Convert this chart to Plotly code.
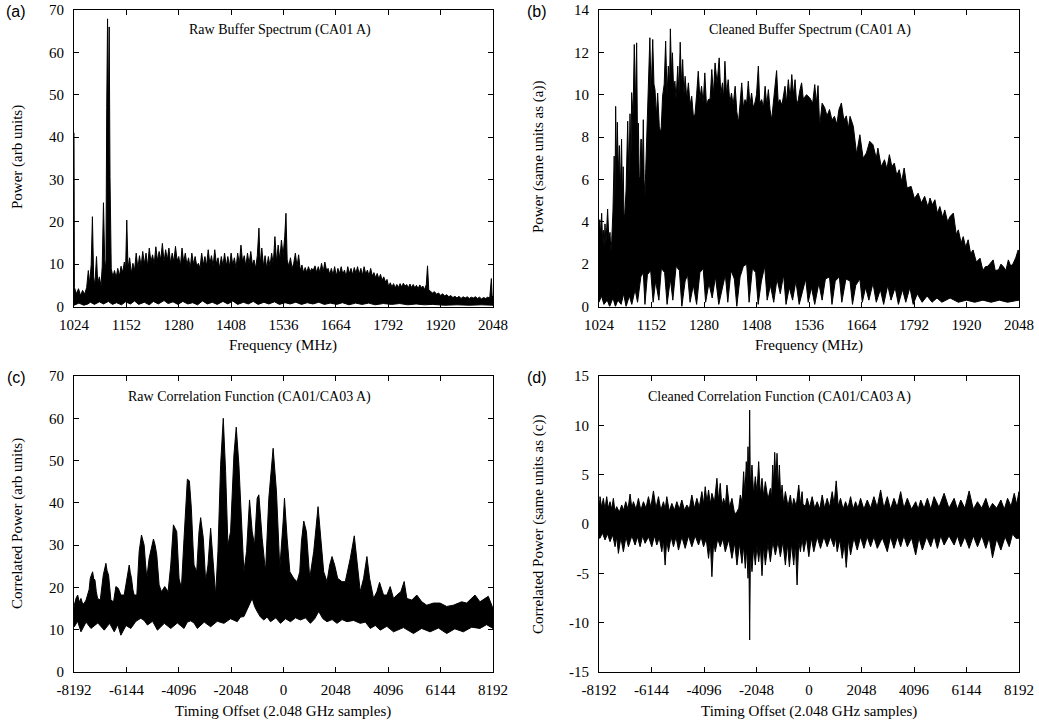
import plotly.graph_objects as go

# ---------------------------------------------------------------------------
# (a) Raw buffer spectrum, CA01 A: upper and lower edges of the trace
# ---------------------------------------------------------------------------
freq_a_top = [1024, 1025, 1030, 1035, 1040, 1045, 1050, 1055, 1059, 1062, 1066, 1069, 1072, 1075,
              1079, 1082, 1086, 1090, 1093, 1096, 1099, 1102, 1104, 1106, 1108, 1110, 1112, 1115,
              1119, 1123, 1127, 1131, 1135, 1139, 1143, 1147, 1150, 1153, 1156, 1160, 1164, 1168,
              1172, 1176, 1180, 1184, 1188, 1192, 1196, 1200, 1204, 1208, 1212, 1216, 1220, 1224,
              1228, 1232, 1236, 1240, 1244, 1248, 1252, 1256, 1260, 1264, 1268, 1272, 1276, 1280,
              1284, 1288, 1292, 1296, 1300, 1304, 1308, 1312, 1316, 1320, 1324, 1328, 1332, 1336,
              1340, 1344, 1348, 1352, 1356, 1360, 1364, 1368, 1372, 1376, 1380, 1384, 1388, 1392,
              1396, 1400, 1404, 1408, 1412, 1416, 1420, 1424, 1428, 1432, 1436, 1440, 1444, 1448,
              1452, 1456, 1460, 1464, 1468, 1472, 1476, 1479, 1483, 1487, 1491, 1495, 1499, 1503,
              1507, 1511, 1515, 1519, 1523, 1527, 1531, 1535, 1539, 1542, 1545, 1549, 1553, 1557,
              1561, 1565, 1569, 1573, 1577, 1581, 1585, 1589, 1593, 1597, 1601, 1605, 1609, 1613,
              1617, 1621, 1625, 1629, 1633, 1637, 1641, 1645, 1649, 1653, 1657, 1661, 1665, 1669,
              1673, 1677, 1681, 1685, 1689, 1693, 1697, 1701, 1705, 1709, 1713, 1717, 1721, 1725,
              1729, 1733, 1737, 1741, 1745, 1749, 1753, 1757, 1761, 1765, 1769, 1773, 1777, 1781,
              1785, 1789, 1793, 1797, 1801, 1805, 1809, 1813, 1817, 1821, 1825, 1829, 1833, 1837,
              1841, 1845, 1849, 1853, 1857, 1861, 1865, 1869, 1873, 1877, 1881, 1885, 1888, 1891,
              1895, 1900, 1905, 1910, 1915, 1920, 1925, 1930, 1935, 1940, 1945, 1950, 1955, 1960,
              1965, 1970, 1975, 1980, 1985, 1990, 1995, 2000, 2005, 2010, 2015, 2020, 2025, 2030,
              2035, 2040, 2044, 2046, 2048]
power_a_top = [41.0, 4.5, 3.0, 4.2, 2.6, 3.8, 2.9, 4.5, 8.5, 5.5, 9.8, 21.2, 7.0, 5.0,
               11.8, 5.5, 7.0, 4.8, 9.5, 24.5, 11.0, 9.0, 47.0, 67.9, 44.0, 66.0, 30.7, 9.0,
               7.0, 8.5, 6.8, 9.0, 7.2, 9.5, 8.0, 10.5, 8.5, 20.4, 9.0, 11.5, 7.8, 10.2,
               8.5, 12.6, 9.0, 12.0, 9.5, 13.0, 10.0, 12.6, 9.5, 13.8, 10.5, 12.2, 10.0, 14.1,
               10.8, 13.0, 11.0, 14.9, 10.5, 13.4, 11.0, 13.8, 10.2, 12.6, 10.5, 14.2, 10.8, 11.8,
               9.5, 13.8, 10.5, 12.6, 9.8, 11.5, 9.0, 12.6, 10.0, 11.8, 9.5, 10.2, 9.0, 12.6,
               9.8, 11.8, 9.5, 13.4, 10.0, 12.0, 9.5, 13.4, 10.0, 11.5, 9.0, 11.8, 9.6, 12.6,
               9.5, 11.8, 9.4, 12.6, 9.8, 11.5, 9.0, 12.6, 10.0, 14.5, 10.5, 12.0, 9.5, 12.6,
               10.0, 13.0, 9.8, 11.0, 9.0, 12.0, 18.5, 10.0, 13.8, 9.5, 12.0, 9.0, 11.8, 9.5,
               12.6, 10.0, 16.5, 10.5, 14.5, 11.0, 15.7, 12.0, 16.5, 22.0, 11.0, 9.5, 11.5, 9.0,
               10.2, 12.6, 9.4, 12.2, 8.5, 9.8, 8.0, 9.2, 8.0, 9.4, 8.2, 9.0, 8.6, 9.6,
               8.0, 9.4, 8.0, 10.2, 8.2, 10.5, 8.6, 9.0, 7.6, 9.0, 7.4, 9.4, 7.2, 9.0,
               7.8, 9.4, 7.6, 8.6, 7.0, 9.4, 7.8, 9.0, 7.5, 9.2, 7.8, 9.4, 7.6, 9.0,
               7.4, 9.4, 7.6, 8.6, 7.2, 9.0, 7.2, 8.0, 6.8, 7.8, 6.5, 7.6, 6.2, 7.0,
               5.8, 6.4, 4.7, 5.6, 4.6, 5.4, 4.4, 5.2, 4.5, 5.4, 4.6, 5.5, 4.8, 5.2,
               4.4, 5.3, 4.5, 5.2, 4.4, 5.0, 4.2, 5.1, 4.5, 4.8, 4.0, 5.2, 9.6, 4.0,
               3.6, 3.2, 3.5, 2.9, 3.2, 2.6, 3.0, 2.5, 2.8, 2.3, 2.6, 2.1, 2.4, 2.0,
               2.4, 1.9, 2.3, 2.0, 2.3, 1.9, 2.2, 2.0, 2.3, 1.9, 2.2, 1.8, 2.1, 1.9,
               2.2, 2.0, 6.6, 2.2, 2.5]
freq_a_floor = [1024, 1036, 1048, 1058, 1064, 1074, 1086, 1096, 1108, 1118,
                1128, 1140, 1150, 1162, 1172, 1182, 1196, 1208, 1218, 1230,
                1244, 1254, 1266, 1278, 1290, 1302, 1314, 1326, 1338, 1350,
                1362, 1374, 1388, 1400, 1412, 1424, 1438, 1450, 1462, 1474,
                1488, 1500, 1514, 1526, 1540, 1552, 1566, 1580, 1594, 1608,
                1622, 1636, 1650, 1666, 1680, 1696, 1712, 1728, 1744, 1760,
                1780, 1800, 1820, 1840, 1860, 1880, 1900, 1930, 1960, 1990,
                2020, 2048]
power_a_floor = [0.3, 0.8, 0.3, 0.6, 1.0, 0.5, 1.1, 0.6, 1.2, 0.5,
                 0.9, 0.4, 1.1, 0.6, 1.3, 0.5, 1.0, 0.4, 1.2, 0.6,
                 1.4, 0.7, 1.1, 0.5, 1.2, 0.6, 0.9, 0.4, 1.3, 0.6,
                 1.0, 0.5, 1.2, 0.6, 1.3, 0.5, 1.0, 0.6, 1.2, 0.5,
                 1.0, 0.6, 1.1, 0.5, 0.9, 0.6, 1.0, 0.5, 0.9, 0.6,
                 1.0, 0.5, 0.8, 0.5, 0.9, 0.4, 0.8, 0.5, 0.8, 0.4,
                 0.7, 0.5, 0.7, 0.4, 0.6, 0.4, 0.5, 0.3, 0.4, 0.3,
                 0.4, 0.3]

# ---------------------------------------------------------------------------
# (b) Cleaned buffer spectrum, CA01 A
# ---------------------------------------------------------------------------
freq_b_top = [1024, 1026, 1028, 1030.5, 1032.5, 1034.6, 1036.5, 1038.6, 1041, 1045, 1048, 1050.8,
              1053, 1055, 1058, 1061, 1063, 1064.6, 1066.5, 1068.7, 1071, 1073.6, 1076, 1079,
              1081, 1083, 1085, 1087, 1090, 1094, 1097, 1099.6, 1102, 1103.6, 1107, 1110, 1113,
              1115.8, 1118, 1120, 1122, 1124, 1126, 1128, 1130, 1132, 1134, 1136, 1138, 1140,
              1142, 1144, 1146, 1148, 1151, 1155, 1158, 1160.5, 1164, 1167, 1171, 1175, 1177,
              1179, 1183, 1186.5, 1190, 1193, 1196, 1198, 1201, 1203, 1206, 1209, 1212, 1216,
              1219, 1222, 1225, 1228, 1231, 1234, 1238, 1242, 1246, 1250, 1254, 1258, 1262,
              1266, 1270, 1274, 1278, 1282, 1286, 1290.5, 1295, 1299, 1303, 1307, 1312, 1317,
              1321, 1325, 1328, 1331, 1335, 1339, 1343, 1347, 1351, 1356, 1360, 1364, 1368,
              1372, 1376, 1380, 1384, 1388, 1392, 1396, 1400, 1404, 1408, 1412.5, 1416, 1420.6,
              1425, 1429, 1433, 1437, 1441, 1445, 1450, 1457, 1461, 1465, 1470, 1477.5, 1481,
              1485.6, 1490, 1494, 1498, 1502, 1506, 1510, 1514, 1518, 1522, 1530, 1538, 1545,
              1550, 1554, 1558, 1562, 1568, 1574, 1580, 1586, 1592, 1598, 1604, 1609, 1615,
              1621, 1627, 1632, 1636, 1644, 1652, 1660, 1668, 1676, 1684, 1692, 1700, 1704,
              1712, 1720, 1726, 1732, 1738, 1744, 1750, 1756, 1762, 1768, 1775, 1785, 1793,
              1802, 1810, 1818, 1826, 1831, 1837, 1843, 1849, 1855, 1862, 1867, 1874, 1880,
              1888, 1895, 1900, 1907, 1912, 1918, 1924, 1930, 1936, 1944, 1953, 1960, 1966,
              1972, 1978, 1985, 1990, 1998, 2004, 2010, 2016, 2022, 2028, 2034, 2040, 2046, 2048]
power_b_top = [3.8, 4.1, 3.4, 4.4, 3.2, 3.6, 2.8, 3.9, 3.0, 4.6, 3.2, 3.5,
               2.6, 3.1, 4.5, 7.1, 5.0, 9.45, 6.5, 8.7, 6.2, 7.6, 5.5, 7.9,
               5.0, 6.6, 4.2, 4.4, 5.5, 8.75, 6.0, 9.1, 7.0, 10.1, 9.0, 12.37, 9.5,
               12.45, 7.5, 8.66, 6.0, 6.14, 7.9, 7.88, 6.5, 8.82, 6.0, 5.2, 6.5, 7.72,
               9.0, 10.08, 10.5, 12.69, 10.0, 12.61, 10.5, 10.24, 9.0, 10.08, 8.5, 8.19, 9.0,
               9.93, 10.5, 12.53, 10.0, 11.35, 10.5, 13.11, 10.8, 11.98, 10.2, 10.64, 9.8, 11.35,
               10.0, 12.48, 10.5, 11.66, 10.0, 10.87, 9.8, 10.56, 9.5, 9.93, 9.0, 9.06, 10.0,
               11.11, 9.8, 10.4, 9.6, 11.03, 9.5, 9.77, 9.8, 11.19, 10.0, 11.5, 10.5, 11.74,
               10.0, 10.56, 9.8, 11.58, 10.0, 10.71, 9.6, 10.08, 9.5, 10.4, 9.2, 8.66, 9.6,
               10.56, 9.4, 9.77, 9.6, 10.64, 9.5, 10.08, 9.4, 9.61, 10.0, 11.35, 9.6, 9.77,
               9.4, 10.4, 9.5, 10.24, 9.3, 8.82, 9.8, 11.14, 9.6, 9.77, 9.5, 10.4, 9.6,
               10.71, 9.8, 10.95, 10.0, 10.71, 9.5, 9.77, 10.24, 10.56, 9.8, 10.0, 9.85, 9.6,
               10.48, 9.6, 10.43, 8.5, 9.6, 9.4, 9.0, 9.3, 8.8, 8.98, 8.6, 9.3, 9.61,
               8.8, 9.0, 8.4, 8.98, 8.51, 7.2, 8.11, 7.0, 7.25, 7.8, 7.64, 7.0, 7.48,
               6.6, 6.93, 6.5, 7.17, 6.6, 6.77, 6.2, 6.46, 5.9, 6.54, 5.6, 5.67, 5.1,
               5.35, 4.9, 5.2, 4.7, 5.12, 4.8, 5.04, 4.4, 4.72, 4.2, 4.56, 4.0, 4.25,
               4.41, 3.4, 3.62, 3.0, 3.3, 2.8, 3.15, 2.5, 2.67, 2.1, 2.28, 1.7, 1.88,
               1.9, 2.04, 2.2, 1.7, 1.73, 2.0, 1.88, 1.7, 2.2, 1.9, 2.04, 2.3, 2.67, 2.5]
freq_b_floor = [1024, 1030, 1036, 1044, 1050, 1058, 1064, 1070, 1078, 1084,
                1090, 1098, 1104, 1112, 1118, 1126, 1132, 1136, 1142, 1150,
                1156, 1162, 1170, 1176, 1184, 1190, 1198, 1204, 1212, 1220,
                1226, 1234, 1240, 1246, 1254, 1262, 1270, 1278, 1284, 1292,
                1300, 1308, 1316, 1324, 1332, 1338, 1346, 1354, 1360, 1368,
                1376, 1384, 1390, 1398, 1406, 1412, 1420, 1428, 1434, 1442,
                1450, 1458, 1466, 1474, 1480, 1488, 1496, 1504, 1512, 1520,
                1528, 1534, 1542, 1550, 1560, 1568, 1576, 1586, 1592, 1600,
                1610, 1616, 1626, 1636, 1642, 1650, 1660, 1666, 1674, 1682,
                1692, 1700, 1710, 1718, 1728, 1736, 1746, 1754, 1764, 1772,
                1782, 1790, 1800, 1812, 1824, 1836, 1848, 1860, 1880, 1900,
                1920, 1940, 1960, 1980, 2000, 2020, 2048]
power_b_floor = [0.2, 0.5, 0.1, 0.3, 0.0, 0.4, 0.0, 0.3, 0.1, 0.6,
                 0.0, 0.5, 0.1, 0.8, 0.2, 1.4, 1.6, 0.1, 1.5, 1.7,
                 0.2, 1.2, 0.3, 1.8, 1.6, 0.1, 1.3, 0.3, 1.9, 1.7,
                 0.0, 1.2, 1.5, 0.2, 1.0, 0.1, 1.6, 1.8, 0.2, 1.1,
                 0.4, 1.4, 0.1, 0.8, 1.5, 0.2, 1.7, 1.3, 0.0, 1.4,
                 1.9, 2.0, 0.2, 1.8, 1.6, 0.1, 1.2, 1.9, 0.3, 1.0,
                 0.2, 1.3, 0.6, 1.5, 0.1, 0.9, 0.3, 1.2, 0.1, 0.7,
                 1.3, 0.2, 0.9, 0.1, 1.1, 0.3, 1.3, 1.4, 0.1, 1.2,
                 1.4, 0.2, 1.3, 1.2, 0.1, 1.0, 1.3, 0.2, 0.9, 0.3,
                 1.1, 0.2, 0.8, 0.1, 1.0, 0.3, 0.9, 0.1, 0.8, 0.2,
                 0.9, 0.1, 0.6, 0.2, 0.5, 0.2, 0.4, 0.2, 0.4, 0.2,
                 0.3, 0.2, 0.3, 0.2, 0.3, 0.2, 0.3]

# ---------------------------------------------------------------------------
# (c) Raw correlation function, CA01/CA03 A
# ---------------------------------------------------------------------------
lag_c_top = [-8192, -8179, -8110, -8049, -7980, -7919, -7850, -7789, -7720, -7659, -7600, -7555,
             -7464, -7420, -7373, -7320, -7269, -7165, -7100, -7048, -6944, -6900, -6840, -6790,
             -6749, -6645, -6554, -6463, -6400, -6359, -6229, -6125, -6034, -5990, -5943, -5890,
             -5839, -5735, -5644, -5553, -5449, -5400, -5345, -5254, -5085, -5020, -4955, -4864,
             -4773, -4643, -4513, -4409, -4305, -4240, -4175, -4084, -3993, -3889, -3800, -3759,
             -3681, -3603, -3540, -3499, -3395, -3304, -3239, -3135, -3044, -2953, -2849, -2745,
             -2654, -2563, -2459, -2355, -2264, -2173, -2069, -1939, -1848, -1744, -1653, -1549,
             -1445, -1328, -1224, -1133, -1029, -964, -834, -704, -574, -405, -275, -145,
             -15, 38, 142, 247, 402, 532, 636, 701, 792, 896, 1026, 1182, 1351, 1468, 1572,
             1702, 1806, 1897, 2001, 2118, 2287, 2417, 2612, 2768, 2898, 3002, 3132, 3262,
             3366, 3522, 3652, 3756, 3912, 4042, 4172, 4302, 4432, 4588, 4718, 4822, 5017,
             5212, 5407, 5602, 5862, 6122, 6382, 6642, 6967, 7162, 7487, 7682, 8007, 8192]
corr_c_top = [15.0, 15.8, 17.5, 18.2, 16.5, 17.4, 16.0, 16.3, 17.0, 18.2, 19.5, 22.2,
              23.7, 22.0, 21.8, 19.0, 17.4, 17.0, 20.0, 22.9, 25.7, 24.0, 22.9, 19.5,
              17.0, 16.6, 20.2, 19.8, 18.6, 18.2, 18.2, 22.15, 25.3, 23.5, 22.15, 19.5,
              18.2, 18.2, 28.5, 32.4, 30.0, 26.0, 22.15, 26.9, 31.45, 30.0, 27.7, 20.6,
              19.0, 20.2, 19.0, 25.3, 34.8, 34.0, 33.2, 22.15, 19.8, 31.6, 42.0, 45.6,
              45.2, 38.7, 30.0, 25.3, 23.7, 33.2, 36.5, 31.6, 21.4, 25.3, 34.0, 25.3,
              18.2, 28.5, 49.0, 60.0, 47.4, 30.0, 33.2, 51.3, 57.9, 49.0, 36.3, 23.7,
              28.5, 40.7, 33.2, 30.0, 41.1, 41.9, 31.6, 23.7, 41.1, 52.9, 42.6, 24.5,
              35.5, 41.1, 31.6, 23.7, 22.15, 21.36, 23.7, 30.8, 35.7, 33.2, 22.15, 28.5, 39.1, 31.6, 23.7,
              21.36, 25.3, 27.3, 25.3, 22.15, 21.36, 21.36, 26.9, 32.2, 25.3, 19.0, 22.15, 27.3,
              22.15, 17.4, 19.0, 21.2, 18.2, 18.2, 20.2, 17.4, 18.2, 19.0, 21.4, 17.4, 17.0,
              18.2, 16.6, 15.8, 16.3, 16.3, 15.5, 15.8, 16.6, 16.3, 18.2, 16.6, 17.9, 15.0]
lag_c_floor = [-8192, -8179, -8050, -7919, -7720, -7529, -7260, -7009, -6800, -6619,
               -6480, -6359, -6160, -5969, -5770, -5579, -5450, -5319, -5120, -4929,
               -4660, -4409, -4150, -3889, -3760, -3629, -3500, -3369, -3100, -2849,
               -2590, -2329, -2070, -1809, -1680, -1549, -1390, -1224, -1130, -1029,
               -900, -769, -640, -509, -300, -119, 80, 272, 470, 662,
               860, 1052, 1220, 1377, 1540, 1702, 1900, 2092, 2290, 2482,
               2740, 3002, 3200, 3392, 3590, 3782, 4040, 4302, 4690, 5082,
               5400, 5732, 6060, 6382, 6700, 7032, 7360, 7682, 7940, 8192]
corr_c_floor = [11.0, 10.7, 12.0, 9.5, 11.8, 10.3, 11.6, 9.9, 11.5, 9.5,
                11.2, 8.7, 11.0, 10.3, 12.0, 12.7, 12.2, 11.1, 12.0, 9.9,
                11.5, 10.3, 11.6, 10.3, 11.8, 12.1, 11.6, 10.3, 11.8, 10.7,
                12.0, 11.5, 12.6, 11.9, 13.0, 13.1, 15.0, 17.4, 15.5, 14.3,
                13.0, 12.3, 13.0, 11.9, 12.8, 11.5, 12.6, 11.9, 12.8, 12.3,
                12.8, 11.5, 12.6, 14.3, 12.6, 11.9, 12.4, 11.5, 12.4, 11.9,
                12.2, 11.5, 11.8, 10.3, 11.0, 9.9, 10.8, 9.5, 10.5, 9.1,
                10.3, 9.5, 10.4, 9.1, 10.2, 9.5, 10.6, 10.3, 11.2, 10.3]

# ---------------------------------------------------------------------------
# (d) Cleaned correlation function, CA01/CA03 A
# ---------------------------------------------------------------------------
lag_d_top = [-8192, -8170, -8153, -8090, -8022, -7960, -7892, -7830, -7762, -7700,
             -7631, -7570, -7501, -7400, -7306, -7230, -7149, -7060, -6980, -6910,
             -6850, -6750, -6654, -6560, -6459, -6360, -6263, -6170, -6068, -5970,
             -5872, -5780, -5677, -5610, -5547, -5450, -5351, -5250, -5156, -5060,
             -4960, -4860, -4765, -4670, -4570, -4470, -4374, -4280, -4179, -4110,
             -4048, -3980, -3918, -3850, -3788, -3690, -3592, -3530, -3462, -3400,
             -3332, -3260, -3201, -3100, -3006, -2900, -2810, -2740, -2680, -2610,
             -2550, -2500, -2446, -2410, -2380, -2340, -2315, -2290, -2224, -2160,
             -2094, -2030, -1963, -1900, -1833, -1770, -1703, -1600, -1507, -1460,
             -1416, -1380, -1338, -1290, -1247, -1200, -1156, -1100, -1052, -990,
             -921, -820, -726, -660, -596, -500, -400, -335, -270, -235,
             -140, -72, 25, 123, 220, 319, 420, 514, 610, 709,
             800, 905, 980, 1061, 1140, 1231, 1330, 1426, 1520, 1622,
             1720, 1817, 1910, 2012, 2140, 2273, 2400, 2533, 2660, 2794,
             2920, 3055, 3180, 3315, 3440, 3576, 3700, 3836, 4000, 4162,
             4260, 4358, 4490, 4619, 4750, 4879, 5070, 5270, 5460, 5661,
             5790, 5921, 6080, 6247, 6410, 6573, 6740, 6899, 7030, 7159,
             7320, 7485, 7620, 7746, 7880, 8007, 8100, 8192]
corr_d_top = [2.4, 1.6, 2.77, 1.7, 2.6, 1.5, 2.77, 1.6, 2.26, 1.5,
              2.6, 1.3, 1.76, 1.2, 1.93, 1.4, 2.26, 1.5, 3.04, 1.6,
              2.26, 1.5, 2.6, 1.4, 2.26, 1.6, 2.77, 1.7, 3.35, 1.6,
              2.77, 1.4, 2.26, 1.5, 2.77, 1.3, 2.09, 1.4, 2.26, 1.5,
              2.43, 1.4, 1.93, 1.5, 2.94, 1.6, 2.6, 1.7, 3.28, 2.0,
              3.78, 2.2, 3.45, 2.0, 3.11, 2.2, 4.63, 2.4, 4.12, 1.8,
              2.6, 1.9, 3.95, 1.7, 2.6, 1.0, 1.25, 1.6, 2.94, 2.2,
              5.3, 3.0, 6.32, 4.0, 7.83, 4.5, 11.55, 4.0, 5.98, 3.0,
              4.8, 3.2, 6.32, 3.0, 4.63, 2.8, 4.29, 2.5, 3.61, 2.6,
              5.98, 4.0, 7.26, 4.5, 7.16, 3.5, 5.98, 2.5, 3.95, 2.0,
              3.28, 1.8, 2.94, 1.6, 2.6, 1.8, 3.95, 2.0, 3.28, 2.0,
              1.8, 2.6, 1.7, 2.77, 1.6, 2.26, 1.5, 2.94, 1.6, 2.6,
              1.7, 3.28, 2.0, 4.37, 1.8, 2.6, 1.5, 2.26, 1.6, 2.77,
              1.5, 2.26, 1.6, 2.6, 1.5, 2.43, 1.6, 2.77, 1.7, 3.45,
              1.6, 2.77, 1.5, 2.6, 1.7, 3.28, 1.6, 2.6, 1.5, 2.26,
              1.5, 2.43, 1.6, 2.6, 1.5, 2.77, 1.7, 3.11, 1.6, 2.6,
              1.5, 2.43, 1.6, 3.35, 1.5, 2.26, 1.6, 2.6, 1.5, 2.09,
              1.6, 2.43, 1.5, 2.6, 1.8, 3.11, 2.0, 3.28]
lag_d_floor = [-8192, -8153, -8060, -7957, -7860, -7762, -7660, -7566, -7500, -7436,
               -7340, -7241, -7140, -7045, -6910, -6785, -6690, -6589, -6490, -6394,
               -6260, -6133, -6030, -5937, -5840, -5742, -5680, -5612, -5550, -5482,
               -5380, -5286, -5190, -5091, -4960, -4830, -4700, -4570, -4440, -4309,
               -4210, -4113, -4010, -3918, -3850, -3788, -3720, -3657, -3560, -3462,
               -3360, -3266, -3130, -3006, -2900, -2810, -2710, -2615, -2550, -2485,
               -2430, -2380, -2345, -2315, -2285, -2224, -2160, -2094, -2030, -1963,
               -1900, -1833, -1770, -1703, -1600, -1507, -1410, -1312, -1210, -1117,
               -1020, -921, -840, -765, -680, -596, -530, -465, -400, -335,
               -270, -203, -100, -7, 90, 188, 320, 449, 580, 709,
               840, 970, 1040, 1100, 1200, 1296, 1380, 1452, 1540, 1622,
               1750, 1882, 2010, 2143, 2270, 2403, 2530, 2664, 2860, 3055,
               3180, 3315, 3450, 3576, 3700, 3836, 4000, 4162, 4290, 4423,
               4590, 4749, 4880, 5009, 5140, 5270, 5460, 5661, 5790, 5921,
               6080, 6247, 6410, 6573, 6740, 6899, 7030, 7159, 7320, 7485,
               7650, 7811, 7940, 8072, 8192]
corr_d_floor = [-1.4, -1.45, -0.9, -1.62, -1.0, -1.79, -1.1, -2.3, -1.3, -2.98,
                -1.4, -2.81, -1.3, -2.3, -1.2, -2.13, -1.3, -2.3, -1.2, -1.96,
                -1.3, -2.3, -1.2, -2.13, -1.4, -2.81, -1.6, -4.16, -1.6, -2.81,
                -1.3, -2.3, -1.3, -2.64, -1.3, -2.47, -1.2, -2.3, -1.2, -2.13,
                -1.3, -2.3, -1.5, -3.48, -1.8, -5.34, -1.8, -2.81, -1.5, -2.3,
                -1.5, -2.81, -1.6, -3.48, -1.9, -4.16, -2.0, -3.99, -2.2, -4.49,
                -2.4, -5.5, -3.0, -11.76, -3.0, -4.83, -2.4, -4.16, -2.2, -3.82,
                -2.2, -5.24, -2.2, -4.16, -2.0, -3.82, -1.8, -3.14, -1.8, -3.31,
                -1.8, -4.16, -2.0, -4.33, -2.0, -4.16, -2.0, -6.18, -1.8, -2.81,
                -1.5, -2.8, -1.4, -3.31, -1.4, -2.81, -1.3, -2.47, -1.3, -2.3,
                -1.3, -2.3, -1.4, -2.81, -1.6, -3.48, -2.0, -4.4, -1.6, -3.14,
                -1.4, -2.64, -1.3, -2.47, -1.3, -2.3, -1.3, -2.47, -1.4, -2.81,
                -1.3, -2.47, -1.3, -2.3, -1.2, -2.3, -1.4, -3.14, -1.4, -2.64,
                -1.3, -2.3, -1.2, -2.47, -1.2, -2.13, -1.2, -2.13, -1.2, -2.3,
                -1.3, -2.47, -1.2, -2.3, -1.2, -2.47, -1.4, -3.42, -1.5, -2.64,
                -1.3, -2.3, -1.0, -1.45, -1.45]

# Axis ticks
freq_ticks = [1024, 1152, 1280, 1408, 1536, 1664, 1792, 1920, 2048]
lag_ticks = [-8192, -6144, -4096, -2048, 0, 2048, 4096, 6144, 8192]
power_ticks = [0, 10, 20, 30, 40, 50, 60, 70]
clean_power_ticks = [0, 2, 4, 6, 8, 10, 12, 14]
clean_corr_ticks = [-15, -10, -5, 0, 5, 10, 15]

W, H = 1039, 726
SERIF = "Liberation Serif, Times New Roman, serif"
SANS = "Liberation Sans, Arial, sans-serif"


def band(x_top, y_top, x_floor, y_floor, xa, ya):
    """Closed black outline between upper and lower edge of a dense trace."""
    return go.Scatter(
        x=list(x_top) + list(x_floor)[::-1],
        y=list(y_top) + list(y_floor)[::-1],
        mode="lines", fill="toself", fillcolor="black",
        line=dict(color="black", width=1),
        xaxis=xa, yaxis=ya, hoverinfo="skip", showlegend=False,
    )


fig = go.Figure()
fig.add_trace(band(freq_a_top, power_a_top, freq_a_floor, power_a_floor, "x", "y"))
fig.add_trace(band(freq_b_top, power_b_top, freq_b_floor, power_b_floor, "x2", "y2"))
fig.add_trace(band(lag_c_top, corr_c_top, lag_c_floor, corr_c_floor, "x3", "y3"))
fig.add_trace(band(lag_d_top, corr_d_top, lag_d_floor, corr_d_floor, "x4", "y4"))

axis_style = dict(
    showline=True, linecolor="black", linewidth=1, mirror="ticks",
    ticks="inside", ticklen=5, tickwidth=1, tickcolor="black",
    showgrid=False, zeroline=False, automargin=False,
    tickfont=dict(family=SERIF, size=15, color="black"),
)

left_dom = [74 / W, 493 / W]
right_dom = [599 / W, 1019 / W]
top_dom = [1 - 306.5 / H, 1 - 10 / H]
bot_dom = [1 - 672 / H, 1 - 376 / H]


def ticks(vals):
    return dict(tickmode="array", tickvals=vals, ticktext=[str(v) for v in vals])


xstyle = dict(axis_style, ticklabelstandoff=4)
ystyle = dict(axis_style, ticklabelstandoff=6)

fig.update_layout(
    width=W, height=H,
    margin=dict(l=0, r=0, t=0, b=0),
    paper_bgcolor="white", plot_bgcolor="white",
    showlegend=False,
    xaxis=dict(xstyle, domain=left_dom, range=[1024, 2048], anchor="y", **ticks(freq_ticks)),
    yaxis=dict(ystyle, domain=top_dom, range=[0, 70], anchor="x", **ticks(power_ticks)),
    xaxis2=dict(xstyle, domain=right_dom, range=[1024, 2048], anchor="y2", **ticks(freq_ticks)),
    yaxis2=dict(ystyle, domain=top_dom, range=[0, 14], anchor="x2", **ticks(clean_power_ticks)),
    xaxis3=dict(xstyle, domain=left_dom, range=[-8192, 8192], anchor="y3", **ticks(lag_ticks)),
    yaxis3=dict(ystyle, domain=bot_dom, range=[0, 70], anchor="x3", **ticks(power_ticks)),
    xaxis4=dict(xstyle, domain=right_dom, range=[-8192, 8192], anchor="y4", **ticks(lag_ticks)),
    yaxis4=dict(ystyle, domain=bot_dom, range=[-15, 15], anchor="x4", **ticks(clean_corr_ticks)),
)


def label(text, x, y, size=15, family=SERIF, angle=0, xanchor="center"):
    fig.add_annotation(
        text=text, xref="paper", yref="paper", x=x / W, y=1 - y / H,
        xanchor=xanchor, yanchor="middle", showarrow=False, textangle=angle,
        font=dict(family=family, size=size, color="black"),
    )


# Titles inside each panel
label("Raw Buffer Spectrum (CA01 A)", 373, 30, size=14, xanchor="right")
label("Cleaned Buffer Spectrum (CA01 A)", 913, 30, size=14, xanchor="right")
label("Raw Correlation Function (CA01/CA03 A)", 373, 397, size=14, xanchor="right")
label("Cleaned Correlation Function (CA01/CA03 A)", 913, 397, size=14, xanchor="right")

# Axis titles
label("Frequency (MHz)", 283, 345)
label("Frequency (MHz)", 809, 345)
label("Timing Offset (2.048 GHz samples)", 283, 711)
label("Timing Offset (2.048 GHz samples)", 809, 711)
label("Power (arb units)", 17, 157, angle=-90)
label("Power (same units as (a))", 538, 157, angle=-90)
label("Correlated Power (arb units)", 17, 524, angle=-90)
label("Correlated Power (same units as (c))", 538, 524, angle=-90)

# Panel letters
label("(a)", 16, 12, size=16, family=SANS)
label("(b)", 537, 12, size=16, family=SANS)
label("(c)", 16, 377, size=16, family=SANS)
label("(d)", 537, 377, size=16, family=SANS)

fig.write_html("out.html")
